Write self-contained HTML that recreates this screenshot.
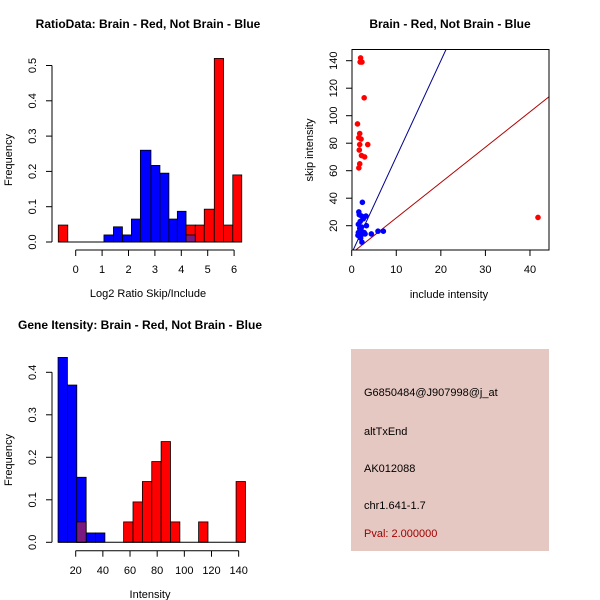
<!DOCTYPE html>
<html><head><meta charset="utf-8"><style>
body{margin:0;background:#fff}
svg{display:block;font-family:"Liberation Sans",sans-serif}
</style></head><body>
<svg id="c" width="600" height="600" xmlns="http://www.w3.org/2000/svg">
<rect x="0" y="0" width="600" height="600" fill="#fff"/>
<g id="p1"></g>
<g id="p2"></g>
<g id="p3"></g>
<g id="p4">
<rect x="351" y="349" width="198" height="202" fill="#e6c8c2"/>
<text x="364" y="396" font-size="11">G6850484@J907998@j_at</text>
<text x="364" y="435" font-size="11">altTxEnd</text>
<text x="364" y="472" font-size="11">AK012088</text>
<text x="364" y="509" font-size="11">chr1.641-1.7</text>
<text x="364" y="537" font-size="11" fill="#a00000">Pval: 2.000000</text>
</g>
</svg>
<script>
// ---- Plot 1 data: log2 ratio histogram ----
const p1BlueEdges = [1.07,1.43,1.77,2.11,2.45,2.85,3.19,3.53,3.85,4.18,4.53];
const p1BlueFreq = [0.02,0.043,0.02,0.065,0.26,0.217,0.195,0.065,0.087,0.02];
const p1RedEdges = [-0.66,-0.30,null,4.18,4.53,4.87,5.25,5.6,5.95,6.29];
const p1RedFreq = [0.048,null,null,0.048,0.048,0.093,0.52,0.048,0.19];
const p1XTicks = [0,1,2,3,4,5,6];
const p1YTicks = [0,0.1,0.2,0.3,0.4,0.5];
// ---- Plot 2 data: scatter ----
const redX = [2.0,1.9,2.3,2.8,1.3,1.8,1.6,2.1,1.8,3.6,1.7,2.2,2.9,1.8,1.6,41.8];
const redY = [142,139,139,113,94,87,84,83,79,79,75,71,70,65,62,26];
const blueX = [1.6,1.7,2.4,3.2,2.2,1.5,3.3,1.8,2.2,1.5,2.0,2.5,2.8,1.4,1.8,2.2,2.3,4.4,5.9,7.1,2.6,1.9,2.0,3.0];
const blueY = [30,28,37,27,27,21,20,18,19,15,14,14,15,13,12,16,8,14,16,16,25,23,11,14];
const blueSlope = 7.0;
const redSlope = 2.57;
const p2XTicks = [0,10,20,30,40];
const p2YTicks = [20,40,60,80,100,120,140];
// ---- Plot 3 data: gene intensity histogram ----
const p3BlueStart = 7.0, p3RedStart = 20.8, p3BinWidth = 6.9;
const p3BlueFreq = [0.435,0.37,0.153,0.022,0.022];
const p3RedFreq = [0.048,0,0,0,0,0.048,0.095,0.143,0.19,0.237,0.048,0,0,0.048,0,0,0,0.143];
const p3XTicks = [20,40,60,80,100,120,140];
const p3YTicks = [0,0.1,0.2,0.3,0.4];

const NS="http://www.w3.org/2000/svg";
function mk(parent,tag,attrs,txt){const e=document.createElementNS(NS,tag);for(const k in attrs)e.setAttribute(k,attrs[k]);if(txt!==undefined)e.textContent=txt;parent.appendChild(e);return e;}
function blend(){return "#7a1a80";}

// ---------- Plot 1 ----------
(function(){
const g=document.getElementById('p1');
const sx=v=>75.7+v*26.4, sy=v=>242-v*353;
const bars=[];
for(let i=0;i<p1BlueFreq.length;i++){
  const r=mk(g,'rect',{x:sx(p1BlueEdges[i]),y:sy(p1BlueFreq[i]),width:sx(p1BlueEdges[i+1])-sx(p1BlueEdges[i]),height:sy(0)-sy(p1BlueFreq[i]),fill:'#0000ff',stroke:'#000','stroke-width':0.8});
  
  
  bars.push([p1BlueEdges[i],p1BlueEdges[i+1],p1BlueFreq[i]]);
}
for(let i=0;i<p1RedFreq.length;i++){
  if(p1RedFreq[i]==null||p1RedEdges[i]==null||p1RedEdges[i+1]==null)continue;
  const a=p1RedEdges[i],b=p1RedEdges[i+1],f=p1RedFreq[i];
  const r=mk(g,'rect',{x:sx(a),y:sy(f),width:sx(b)-sx(a),height:sy(0)-sy(f),fill:'#ff0000',stroke:'#000','stroke-width':0.8});
  
  
  for(const bb of bars){ if(Math.abs(bb[0]-a)<0.01){const h=Math.min(bb[2],f);
    const o=mk(g,'rect',{x:sx(a),y:sy(h),width:sx(b)-sx(a),height:sy(0)-sy(h),fill:blend(),stroke:'#000','stroke-width':0.8});
    
    }}
}
mk(g,'line',{x1:sx(-0.66),x2:sx(6.29),y1:242,y2:242,stroke:'#000','stroke-width':1});
mk(g,'line',{x1:52,x2:52,y1:sy(0),y2:sy(0.5),stroke:'#000'});
p1YTicks.forEach(t=>{mk(g,'line',{x1:46,x2:52,y1:sy(t),y2:sy(t),stroke:'#000'});
  const tx=mk(g,'text',{x:36,y:sy(t),'font-size':11,'text-anchor':'middle',transform:`rotate(-90 36 ${sy(t)})`},t.toFixed(1));
  
  });
mk(g,'line',{x1:sx(0),x2:sx(6),y1:250,y2:250,stroke:'#000'});
p1XTicks.forEach(t=>{mk(g,'line',{x1:sx(t),x2:sx(t),y1:250,y2:256,stroke:'#000'});
  const tx=mk(g,'text',{x:sx(t),y:273,'font-size':11,'text-anchor':'middle'},String(t));
  
  });
const t1=mk(g,'text',{x:148,y:28,'font-size':12,'font-weight':'bold','text-anchor':'middle'},'RatioData: Brain - Red, Not Brain - Blue');


const xt=mk(g,'text',{x:148,y:297,'font-size':11,'text-anchor':'middle'},'Log2 Ratio Skip/Include');


const yt=mk(g,'text',{x:12,y:160,'font-size':11,'text-anchor':'middle',transform:'rotate(-90 12 160)'},'Frequency');


})();

// ---------- Plot 2 ----------
(function(){
const g=document.getElementById('p2');
const sx=v=>351.7+v*4.457, sy=v=>225.7-(v-20)*1.375;
const L=352,R=549,T=49.5,B=250;
mk(g,'defs',{}).innerHTML='<clipPath id="cp2"><rect x="352" y="49.5" width="197" height="200.5"/></clipPath>';
const lg=mk(g,'g',{'clip-path':'url(#cp2)'});
const bl=mk(lg,'line',{x1:sx(0),y1:sy(0),x2:sx(40),y2:sy(40*blueSlope),stroke:'#00008b','stroke-width':1});


const rl=mk(lg,'line',{x1:sx(0),y1:sy(0),x2:sx(50),y2:sy(50*redSlope),stroke:'#b00000','stroke-width':1});


for(let i=0;i<blueX.length;i++){const c=mk(lg,'circle',{cx:sx(blueX[i]),cy:sy(blueY[i]),r:2.8,fill:'#0000ff'});
  
  }
for(let i=0;i<redX.length;i++){const c=mk(lg,'circle',{cx:sx(redX[i]),cy:sy(redY[i]),r:2.8,fill:'#ff0000'});
  
  }
mk(g,'rect',{x:L,y:T,width:R-L,height:B-T,fill:'none',stroke:'#000'});
p2XTicks.forEach(t=>{mk(g,'line',{x1:sx(t),x2:sx(t),y1:B,y2:B+6,stroke:'#000'});
  const tx=mk(g,'text',{x:sx(t),y:273,'font-size':11,'text-anchor':'middle'},String(t));
  
  });
p2YTicks.forEach(t=>{mk(g,'line',{x1:L-6,x2:L,y1:sy(t),y2:sy(t),stroke:'#000'});
  const tx=mk(g,'text',{x:337,y:sy(t),'font-size':11,'text-anchor':'middle',transform:`rotate(-90 337 ${sy(t)})`},String(t));
  
  });
const t1=mk(g,'text',{x:450,y:28,'font-size':12,'font-weight':'bold','text-anchor':'middle'},'Brain - Red, Not Brain - Blue');


const xt=mk(g,'text',{x:449,y:298,'font-size':11,'text-anchor':'middle'},'include intensity');


const yt=mk(g,'text',{x:313,y:150,'font-size':11,'text-anchor':'middle',transform:'rotate(-90 313 150)'},'skip intensity');


})();

// ---------- Plot 3 ----------
(function(){
const g=document.getElementById('p3');
const sx=v=>75.7+(v-20)*1.358, sy=v=>542.3-v*425;
const blue=[];
p3BlueFreq.forEach((f,i)=>{const a=p3BlueStart+i*p3BinWidth;blue.push([a,f]);
  const r=mk(g,'rect',{x:sx(a),y:sy(f),width:p3BinWidth*1.358,height:sy(0)-sy(f),fill:'#0000ff',stroke:'#000','stroke-width':0.8});
  
  });
p3RedFreq.forEach((f,i)=>{if(!f)return;const a=p3RedStart+i*p3BinWidth;
  const r=mk(g,'rect',{x:sx(a),y:sy(f),width:p3BinWidth*1.358,height:sy(0)-sy(f),fill:'#ff0000',stroke:'#000','stroke-width':0.8});
  
  
  blue.forEach(b=>{if(Math.abs(b[0]-a)<1){const h=Math.min(b[1],f);
    const o=mk(g,'rect',{x:sx(a),y:sy(h),width:p3BinWidth*1.358,height:sy(0)-sy(h),fill:blend(),stroke:'#000','stroke-width':0.8});
    
    }});});
mk(g,'line',{x1:sx(p3BlueStart),x2:sx(p3RedStart+p3RedFreq.length*p3BinWidth),y1:sy(0),y2:sy(0),stroke:'#000'});
mk(g,'line',{x1:52,x2:52,y1:sy(0),y2:sy(0.4),stroke:'#000'});
p3YTicks.forEach(t=>{mk(g,'line',{x1:46,x2:52,y1:sy(t),y2:sy(t),stroke:'#000'});
  const tx=mk(g,'text',{x:36,y:sy(t),'font-size':11,'text-anchor':'middle',transform:`rotate(-90 36 ${sy(t)})`},t.toFixed(1));
  
  });
mk(g,'line',{x1:sx(20),x2:sx(140),y1:550.7,y2:550.7,stroke:'#000'});
p3XTicks.forEach(t=>{mk(g,'line',{x1:sx(t),x2:sx(t),y1:550.7,y2:556.7,stroke:'#000'});
  const tx=mk(g,'text',{x:sx(t),y:574,'font-size':11,'text-anchor':'middle'},String(t));
  
  });
const t1=mk(g,'text',{x:140,y:329,'font-size':12,'font-weight':'bold','text-anchor':'middle'},'Gene Itensity: Brain - Red, Not Brain - Blue');


const xt=mk(g,'text',{x:150,y:598,'font-size':11,'text-anchor':'middle'},'Intensity');


const yt=mk(g,'text',{x:12,y:460,'font-size':11,'text-anchor':'middle',transform:'rotate(-90 12 460)'},'Frequency');


})();
</script>
</body></html>
